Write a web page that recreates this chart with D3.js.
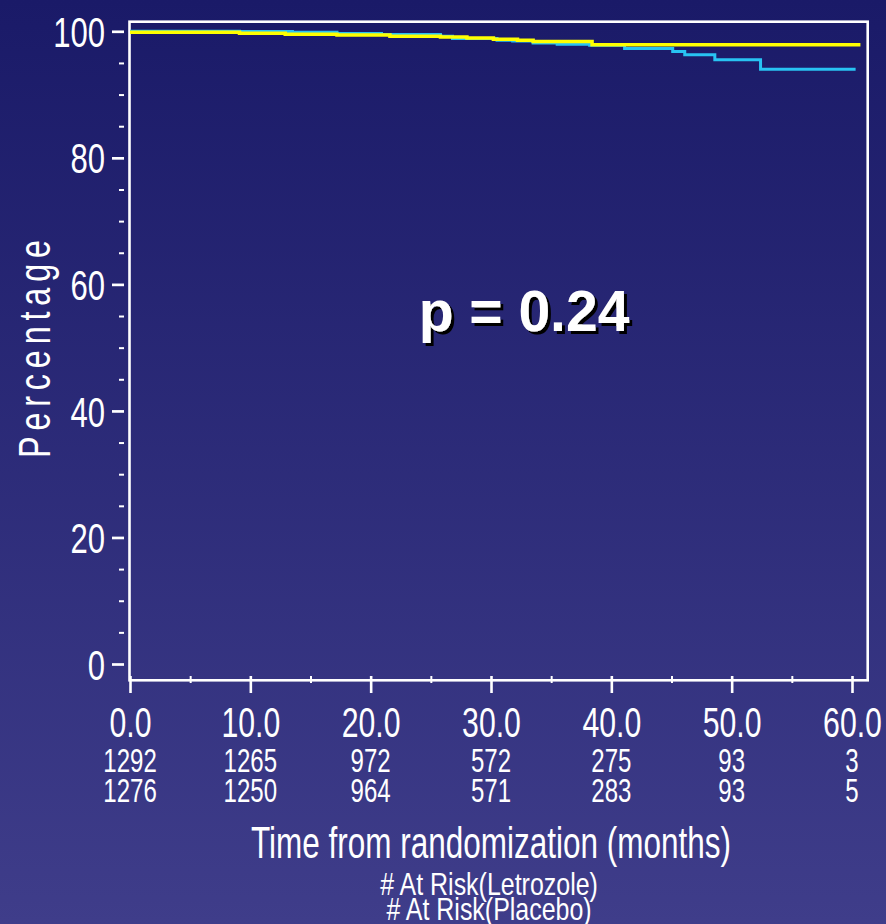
<!DOCTYPE html>
<html>
<head>
<meta charset="utf-8">
<script src="https://cdn.jsdelivr.net/npm/d3@7"></script>
<style>
  html, body { margin: 0; padding: 0; background: #1a1a68; }
  svg { display: block; }
  text { font-family: "Liberation Sans", Arial, sans-serif; fill: #ffffff; }
</style>
</head>
<body>
<svg id="chart" width="886" height="924"></svg>
<script>
// ---- data ----
const xTicks = [0, 10, 20, 30, 40, 50, 60];
const xMinor = [5, 15, 25, 35, 45, 55];
const yTicks = [0, 20, 40, 60, 80, 100];
const yMinor = [5, 10, 15, 25, 30, 35, 45, 50, 55, 65, 70, 75, 85, 90, 95];

// Letrozole (yellow) step curve: [time in months, percentage]
const letrozoleTime  = [0, 9.1, 12.9, 17.2, 21.6, 25.8, 28.0, 30.2, 32.2, 33.5, 38.4, 60.7];
const letrozoleValue = [99.85, 99.68, 99.55, 99.4, 99.23, 99.1, 98.95, 98.75, 98.6, 98.4, 97.87, 97.87];

// Placebo (cyan) step curve
const placeboTime  = [0, 9.1, 13.5, 17.2, 20.9, 25.8, 26.8, 30.5, 31.8, 33.5, 35.5, 38.2, 41.1, 45.1, 46.1, 48.6, 52.4, 60.3];
const placeboValue = [100, 99.95, 99.85, 99.65, 99.5, 99.2, 98.85, 98.6, 98.45, 98.15, 97.95, 97.8, 97.3, 96.8, 96.3, 95.5, 94.0, 94.0];

const riskLetrozole = [1292, 1265, 972, 572, 275, 93, 3];
const riskPlacebo   = [1276, 1250, 964, 571, 283, 93, 5];

const pText = "p = 0.24";
const xTitle = "Time from randomization (months)";
const yTitle = "Percentage";
const riskLabel1 = "# At Risk(Letrozole)";
const riskLabel2 = "# At Risk(Placebo)";

// ---- drawing ----
const svg = d3.select("#chart");
const W = 886, H = 924;

const defs = svg.append("defs");
const grad = defs.append("linearGradient").attr("id", "bg")
  .attr("x1", 0).attr("y1", 0).attr("x2", 0).attr("y2", 1);
grad.append("stop").attr("offset", "0%").attr("stop-color", "#1a1a68");
grad.append("stop").attr("offset", "100%").attr("stop-color", "#3f3d8a");
const shadow = defs.append("filter").attr("id", "shadow")
  .attr("x", "-10%").attr("y", "-10%").attr("width", "130%").attr("height", "140%");
shadow.append("feDropShadow").attr("dx", 3).attr("dy", 3).attr("stdDeviation", 0.6)
  .attr("flood-color", "#000000").attr("flood-opacity", 1);

svg.append("rect").attr("width", W).attr("height", H).attr("fill", "url(#bg)");

const x = d3.scaleLinear().domain([0, 60]).range([130, 852]);
const y = d3.scaleLinear().domain([0, 100]).range([664, 31.3]);

// frame
svg.append("rect")
  .attr("x", 129.5).attr("y", 21.7)
  .attr("width", 867.7 - 129.5).attr("height", 680.3 - 21.7)
  .attr("fill", "none").attr("stroke", "#ffffff").attr("stroke-width", 2.6);

// Y axis major
const yAx = svg.append("g").attr("transform", "translate(124,0)")
  .call(d3.axisLeft(y).tickValues(yTicks).tickSize(12).tickFormat(d3.format("d")));
yAx.select(".domain").remove();
yAx.selectAll(".tick line").attr("stroke", "#ffffff").attr("stroke-width", 2.7);
yAx.selectAll(".tick text")
  .attr("x", 0).attr("dy", "0.36em")
  .attr("transform", "translate(-19,0) scale(0.74,1)")
  .style("font-size", "42px").attr("fill", "#ffffff");

// Y axis minor
const yAxm = svg.append("g").attr("transform", "translate(124,0)")
  .call(d3.axisLeft(y).tickValues(yMinor).tickSize(5).tickFormat(""));
yAxm.select(".domain").remove();
yAxm.selectAll(".tick line").attr("stroke", "#ffffff").attr("stroke-width", 2);

// X axis major
const xAx = svg.append("g").attr("transform", "translate(0,676)")
  .call(d3.axisBottom(x).tickValues(xTicks).tickSize(17).tickFormat(d3.format(".1f")));
xAx.select(".domain").remove();
xAx.selectAll(".tick line").attr("stroke", "#ffffff").attr("stroke-width", 2.6);
xAx.selectAll(".tick text")
  .attr("y", 61).attr("dy", 0)
  .attr("transform", "scale(0.72,1)")
  .style("font-size", "42px").attr("fill", "#ffffff");

// X axis minor
const xAxm = svg.append("g").attr("transform", "translate(0,676)")
  .call(d3.axisBottom(x).tickValues(xMinor).tickSize(7).tickFormat(""));
xAxm.select(".domain").remove();
xAxm.selectAll(".tick line").attr("stroke", "#ffffff").attr("stroke-width", 2);

// At-risk rows
function riskRow(vals, baseline) {
  svg.append("g").selectAll("text").data(vals).join("text")
    .attr("transform", (d, i) => `translate(${x(xTicks[i])},${baseline}) scale(0.74,1)`)
    .attr("text-anchor", "middle")
    .style("font-size", "32.5px")
    .text(d => d);
}
riskRow(riskLetrozole, 772);
riskRow(riskPlacebo, 802);

// curves
const line = d3.line().curve(d3.curveStepAfter).x(d => x(d[0])).y(d => y(d[1]));
const placebo = placeboTime.map((t, i) => [t, placeboValue[i]]);
const letrozole = letrozoleTime.map((t, i) => [t, letrozoleValue[i]]);

svg.append("path").datum(placebo).attr("d", line)
  .attr("fill", "none").attr("stroke", "#28c3f3").attr("stroke-width", 3);
svg.append("path").datum(letrozole).attr("d", line)
  .attr("fill", "none").attr("stroke", "#ffff00").attr("stroke-width", 3.5);

// p-value
svg.append("text")
  .attr("x", 524).attr("y", 331)
  .attr("text-anchor", "middle")
  .attr("filter", "url(#shadow)")
  .style("font-size", "57px").style("font-weight", "bold")
  .text(pText);

// y title
svg.append("text")
  .attr("transform", "translate(50,349) rotate(-90) scale(0.72,1)")
  .attr("text-anchor", "middle")
  .attr("textLength", 218 / 0.72).attr("lengthAdjust", "spacing")
  .style("font-size", "45px")
  .text(yTitle);

// x title and at-risk labels
svg.append("text")
  .attr("transform", "translate(491,858) scale(0.70,1)")
  .attr("text-anchor", "middle")
  .style("font-size", "45px")
  .text(xTitle);
svg.append("text")
  .attr("transform", "translate(489,895) scale(0.78,1)")
  .attr("text-anchor", "middle")
  .style("font-size", "32px")
  .text(riskLabel1);
svg.append("text")
  .attr("transform", "translate(489,920) scale(0.78,1)")
  .attr("text-anchor", "middle")
  .style("font-size", "32px")
  .text(riskLabel2);
</script>
</body>
</html>
